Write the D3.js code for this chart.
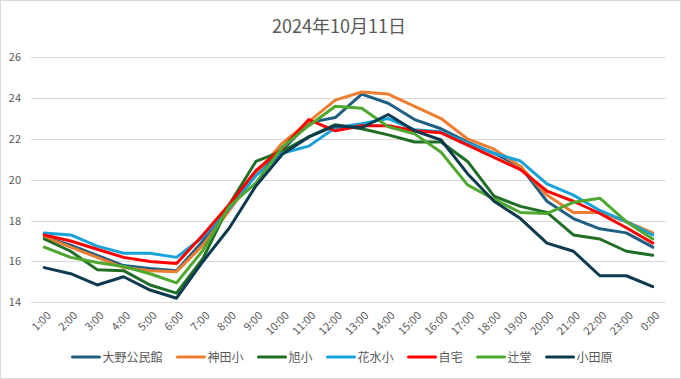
<!DOCTYPE html>
<html>
<head>
<meta charset="utf-8">
<script src="https://cdn.jsdelivr.net/npm/d3@7"></script>
<style>
  body { margin: 0; background: #fff; }
  text { font-family: "Noto Sans CJK JP", "Noto Sans", sans-serif; fill: #595959; }
</style>
</head>
<body>
<div id="chart"></div>
<script>
// data
var times = ["1:00","2:00","3:00","4:00","5:00","6:00","7:00","8:00","9:00","10:00","11:00","12:00",
  "13:00","14:00","15:00","16:00","17:00","18:00","19:00","20:00","21:00","22:00","23:00","0:00"];
var seriesNames = ["大野公民館", "神田小", "旭小", "花水小", "自宅", "辻堂", "小田原"];
var ohno     = [17.2, 16.8, 16.3, 15.8, 15.65, 15.55, 17.0, 18.6, 20.3, 21.45, 22.8, 23.05, 24.2, 23.75, 22.95, 22.5, 21.85, 21.3, 20.65, 18.95, 18.1, 17.6, 17.4, 16.7];
var kanda    = [17.2, 16.7, 16.2, 15.7, 15.55, 15.5, 16.8, 18.5, 20.3, 21.8, 22.85, 23.9, 24.3, 24.2, 23.6, 23.0, 22.0, 21.5, 20.65, 19.25, 18.4, 18.4, 17.95, 17.4];
var asahi    = [17.1, 16.5, 15.6, 15.55, 14.85, 14.45, 16.15, 18.8, 20.9, 21.4, 22.1, 22.7, 22.5, 22.2, 21.85, 21.85, 20.9, 19.2, 18.7, 18.4, 17.3, 17.1, 16.5, 16.3];
var hanamizu = [17.4, 17.3, 16.75, 16.4, 16.4, 16.2, 17.2, 18.6, 20.2, 21.3, 21.65, 22.55, 22.75, 23.0, 22.45, 22.35, 21.8, 21.3, 20.92, 19.8, 19.25, 18.5, 17.95, 17.3];
var jitaku   = [17.3, 17.0, 16.6, 16.2, 16.0, 15.9, 17.3, 18.8, 20.45, 21.55, 22.95, 22.4, 22.65, 22.65, 22.4, 22.3, 21.7, 21.1, 20.5, 19.45, 18.95, 18.35, 17.65, 16.9];
var tsujido  = [16.7, 16.2, 15.95, 15.75, 15.4, 14.95, 16.55, 18.7, 19.85, 21.6, 22.65, 23.6, 23.5, 22.6, 22.25, 21.35, 19.75, 19.05, 18.4, 18.35, 18.9, 19.1, 17.95, 17.1];
var odawara  = [15.7, 15.4, 14.85, 15.25, 14.6, 14.2, 16.0, 17.65, 19.7, 21.25, 22.1, 22.65, 22.55, 23.2, 22.4, 21.95, 20.3, 18.95, 18.1, 16.9, 16.5, 15.3, 15.3, 14.77];
var yTicks = [14, 16, 18, 20, 22, 24, 26];

var colors = ["#215F82", "#ED7D31", "#1F6E26", "#17A2D9", "#FF0000", "#4EA72E", "#0D3A4F"];
var allSeries = [ohno, kanda, asahi, hanamizu, jitaku, tsujido, odawara];

var W = 681, H = 379;
var plot = { left: 31, right: 666, top: 57.3, bottom: 302.3 };

var svg = d3.select("#chart")
  .append("svg")
  .attr("width", W)
  .attr("height", H);

// outer border
svg.append("rect")
  .attr("x", 0.5).attr("y", 0.5)
  .attr("width", W - 1).attr("height", H - 1)
  .style("fill", "#fff")
  .style("stroke", "#d9d9d9");

// title
svg.append("text")
  .attr("x", 339)
  .attr("y", 33)
  .attr("text-anchor", "middle")
  .attr("font-size", 18)
  .text("2024年10月11日");

var x = d3.scalePoint()
  .domain(times)
  .range([plot.left, plot.right])
  .padding(0.5);

var y = d3.scaleLinear()
  .domain([14, 26])
  .range([plot.bottom, plot.top]);

// gridlines
svg.append("g")
  .selectAll("line")
  .data(yTicks)
  .enter()
  .append("line")
  .attr("x1", plot.left).attr("x2", plot.right)
  .attr("y1", function (d) { return Math.round(y(d)) + 0.5 })
  .attr("y2", function (d) { return Math.round(y(d)) + 0.5 })
  .style("stroke", "#d9d9d9");

// y labels
var yAxis = svg.append("g")
  .attr("transform", "translate(" + (plot.left - 10) + ",0)")
  .call(d3.axisLeft(y).tickValues(yTicks).tickSize(0).tickPadding(0));
yAxis.select(".domain").remove();
yAxis.selectAll("text").attr("font-size", 11).style("fill", "#595959");

// x labels, rotated
var xAxis = svg.append("g")
  .attr("transform", "translate(0," + plot.bottom + ")")
  .call(d3.axisBottom(x).tickSize(0).tickPadding(0));
xAxis.select(".domain").remove();
xAxis.selectAll("text")
  .attr("font-size", 11)
  .style("fill", "#595959")
  .attr("text-anchor", "end")
  .attr("dy", null)
  .attr("y", 0)
  .attr("transform", "translate(7,14) rotate(-45)");

// lines
var line = d3.line()
  .x(function (d, i) { return x(times[i]) })
  .y(function (d) { return y(d) });

svg.append("g")
  .selectAll("path")
  .data(allSeries)
  .enter()
  .append("path")
  .attr("d", line)
  .style("fill", "none")
  .style("stroke", function (d, i) { return colors[i] })
  .style("stroke-width", 3)
  .style("stroke-linejoin", "round")
  .style("stroke-linecap", "round");

// legend
var legend = svg.append("g");
var items = legend.selectAll("g")
  .data(seriesNames)
  .enter()
  .append("g");
items.append("line")
  .attr("x1", 0).attr("x2", 27)
  .attr("y1", 0).attr("y2", 0)
  .style("stroke", function (d, i) { return colors[i] })
  .style("stroke-width", 3)
  .style("stroke-linecap", "round");
items.append("text")
  .attr("x", 30)
  .attr("y", 4.5)
  .attr("font-size", 12)
  .text(function (d) { return d });

var pos = 0;
items.each(function () {
  var w = 30 + this.querySelector("text").getComputedTextLength();
  d3.select(this).attr("data-x", pos);
  pos += w + 15;
});
var total = pos - 15;
var startX = 342.5 - total / 2;
items.attr("transform", function () {
  return "translate(" + (startX + (+this.getAttribute("data-x"))) + ",357)";
});
</script>
</body>
</html>
